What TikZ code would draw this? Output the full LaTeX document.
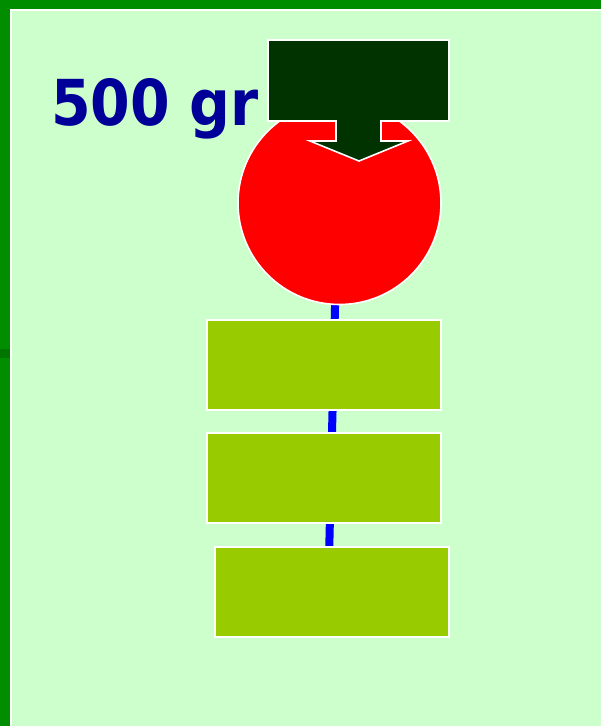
\documentclass[tikz,border=0pt]{standalone}
\usepackage{fontspec}
\newfontfamily\condb{DejaVu Sans Condensed Bold}
\usetikzlibrary{calc}
\pgfdeclarelayer{bg}
\pgfdeclarelayer{lines}
\pgfsetlayers{bg,lines,main}
\definecolor{frameg}{HTML}{008E00}
\definecolor{frameDark}{HTML}{007500}
\definecolor{pagebg}{HTML}{CCFFCC}
\definecolor{boxg}{HTML}{99CC00}
\definecolor{darkbox}{HTML}{003300}
\definecolor{txtblue}{HTML}{000099}
\definecolor{connblue}{HTML}{0000FF}
\tikzset{
  px/.style={x=0.75pt,y=-0.75pt},
  gbox/.style={draw=white,line width=1.2pt,fill=boxg,minimum width=175.5pt,minimum height=67.5pt,inner sep=0pt},
  rcirc/.style={circle,draw=white,line width=1.2pt,fill=red,minimum size=152.25pt,inner sep=0pt},
  conn/.style={draw=connblue,line width=6pt},
}
\begin{document}
\begin{tikzpicture}[px]
\useasboundingbox (0,0) rectangle (601,726);
\begin{pgfonlayer}{bg}
  \fill[frameg] (0,0) rectangle (601,726);
  \fill[frameDark] (0,349) rectangle (10,358);
  \fill[white] (10,9) rectangle (601,726);
  \fill[pagebg] (12,11) rectangle (601,726);
\end{pgfonlayer}
\node[anchor=base west,inner sep=0pt,text=txtblue,font=\condb\fontsize{47.5pt}{57pt}\selectfont] (title) at (51,125) {500 gr};
\node[rcirc] (circ) at (339.5,203) {};
\node[gbox] (b1) at (324,365) {};
\node[gbox] (b2) at (324,478) {};
\node[gbox] (b3) at (332,592) {};
\begin{pgfonlayer}{lines}
  \draw[conn] ($(circ.center)+(-2,0)$) -- ($(b3.center)+(-3.8,0)$);
\end{pgfonlayer}
\draw[draw=white,line width=1.2pt,fill=darkbox]
  (268,40) -- (449,40) -- (449,121) -- (381,121) -- (381,141) -- (408,141)
  -- (359,161) -- (310,141) -- (336,141) -- (336,121) -- (268,121) -- cycle;
\end{tikzpicture}
\end{document}
